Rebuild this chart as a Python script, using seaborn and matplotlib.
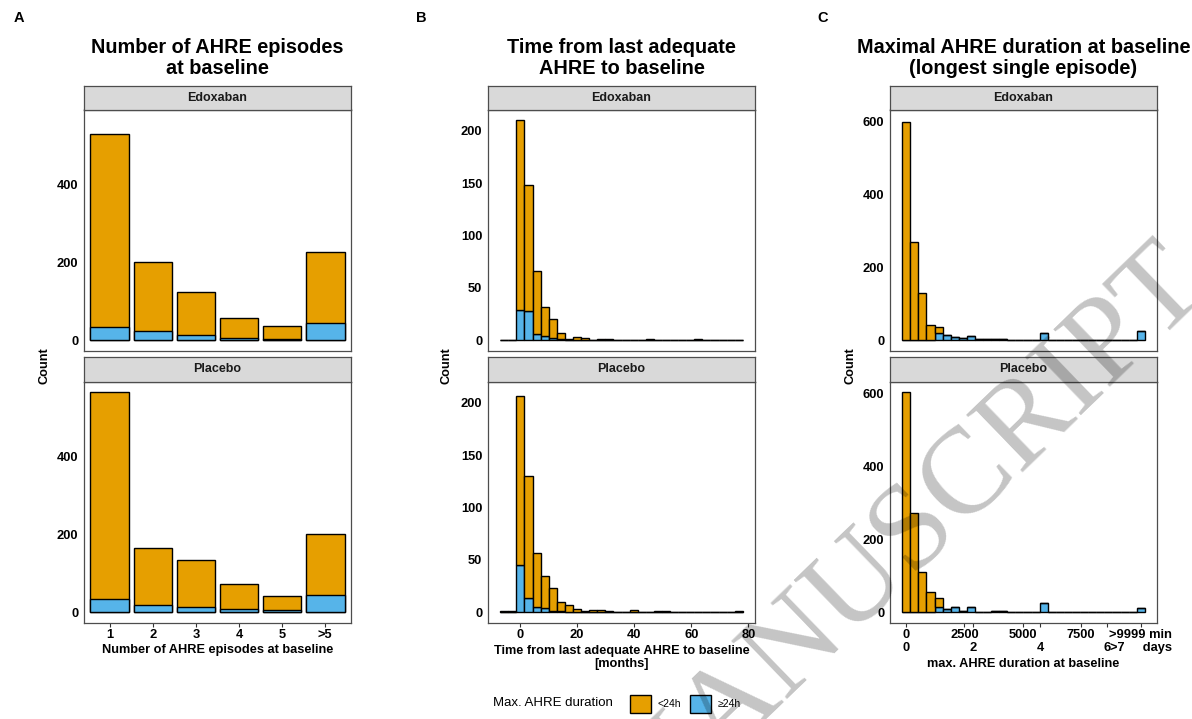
import matplotlib
matplotlib.use("Agg")
import numpy as np
import pandas as pd
import seaborn as sns
from matplotlib import pyplot as plt
from matplotlib.patches import Patch

sns.set_theme(style="white")
plt.rcParams["font.family"] = ["Liberation Sans", "DejaVu Sans"]
plt.rcParams["text.color"] = "black"

ORANGE = "#E69F00"
BLUE = "#56B4E9"
duration_levels = ["<24h", "≥24h"]
arms = ["Edoxaban", "Placebo"]

# A: number of AHRE episodes at baseline
episode_labels = ["1", "2", "3", "4", "5", ">5"]
episodes_edox_short = [498, 178, 110, 51, 35, 181]
episodes_edox_long = [33, 22, 13, 5, 2, 45]
episodes_plac_short = [531, 147, 120, 65, 37, 157]
episodes_plac_long = [34, 19, 13, 8, 4, 44]

# B: months since last adequate AHRE, 30 bins
months_range = (-6.85, 78.05)
months_edox_short = [0, 0, 181, 120, 60, 28, 18, 6, 1, 3, 2, 0, 1, 1, 0,
                     0, 0, 0, 1, 0, 0, 0, 0, 0, 1, 0, 0, 0, 0, 0]
months_edox_long = [0, 0, 29, 28, 6, 4, 2, 1, 0, 0, 0, 0, 0, 0, 0,
                    0, 0, 0, 0, 0, 0, 0, 0, 0, 0, 0, 0, 0, 0, 0]
months_plac_short = [1, 1, 162, 117, 51, 30, 22, 9, 7, 3, 1, 2, 2, 1, 0,
                     0, 2, 0, 0, 1, 1, 0, 0, 0, 0, 0, 0, 0, 0, 1]
months_plac_long = [0, 0, 45, 13, 5, 4, 1, 1, 0, 0, 0, 0, 0, 0, 0,
                    0, 0, 0, 0, 0, 0, 0, 0, 0, 0, 0, 0, 0, 0, 0]

# C: maximal AHRE duration in minutes, 30 bins
minutes_range = (-173.8, 10253.8)
minutes_edox_short = [601, 271, 130, 41, 19, 0, 0, 0, 0, 0, 0, 0, 0, 0, 0,
                      0, 0, 0, 0, 0, 0, 0, 0, 0, 0, 0, 0, 0, 0, 0]
minutes_edox_long = [0, 0, 0, 0, 18, 15, 8, 5, 11, 3, 2, 2, 2, 1, 1,
                     1, 1, 20, 0, 1, 0, 1, 1, 0, 1, 0, 0, 0, 1, 24]
minutes_plac_short = [604, 272, 109, 55, 23, 0, 0, 0, 0, 0, 0, 0, 0, 0, 0,
                      0, 0, 0, 0, 0, 0, 0, 0, 0, 0, 0, 0, 0, 0, 0]
minutes_plac_long = [0, 0, 0, 0, 15, 7, 13, 3, 14, 1, 1, 2, 2, 1, 1,
                     1, 0, 26, 0, 0, 0, 1, 0, 0, 1, 0, 0, 0, 0, 10]
minute_ticks = [0, 2500, 2880, 5000, 5760, 7500, 8640, 10080]
minute_labels = ["0\n0", "2500\n", "\n2", "5000\n", "\n4", "7500\n", "\n6",
                 ">9999 min\n>7     days"]

W, H = 1192, 719
cols = [(84, 351), (488, 755), (890, 1157)]
rows = [((86, 109.5), (109.5, 351)), ((357, 381.5), (381.5, 623))]
EDGE = "#4D4D4D"
TICK_FS = 9.3


def box(x0, y0, x1, y1):
    return [x0 / W, 1 - y1 / H, (x1 - x0) / W, (y1 - y0) / H]


def style_panel(ax, xlim, ylim, yticks, bottom):
    ax.set_xlim(*xlim)
    ax.set_ylim(*ylim)
    ax.set_yticks(yticks)
    ax.set_xlabel("")
    ax.set_ylabel("")
    for sp in ax.spines.values():
        sp.set_visible(True)
        sp.set_color(EDGE)
        sp.set_linewidth(0.9)
    ax.tick_params(axis="both", direction="out", length=2.6, width=0.8,
                   color="#333333", pad=1.5, labelsize=TICK_FS, labelcolor="black")
    for lab in ax.get_yticklabels():
        lab.set_fontweight("bold")
    if not bottom:
        ax.tick_params(axis="x", bottom=False, labelbottom=False)
    else:
        ax.tick_params(axis="x", bottom=True)
        for lab in ax.get_xticklabels():
            lab.set_fontweight("bold")


def strip(fig, col, row, name):
    (y0, y1), _ = rows[row]
    sax = fig.add_axes(box(cols[col][0], y0, cols[col][1], y1))
    sax.set_facecolor("#D9D9D9")
    sax.set_xticks([])
    sax.set_yticks([])
    for sp in sax.spines.values():
        sp.set_color(EDGE)
        sp.set_linewidth(0.9)
    sax.text(0.5, 0.5, name, ha="center", va="center", fontsize=9,
             fontweight="bold", color="#1A1A1A", transform=sax.transAxes)


def binned_hist(ax, rng, short, long):
    edges = np.linspace(rng[0], rng[1], len(short) + 1)
    centers = (edges[:-1] + edges[1:]) / 2
    df = pd.DataFrame({
        "x": np.concatenate([centers, centers]),
        "n": short + long,
        "dur": [duration_levels[0]] * len(short) + [duration_levels[1]] * len(long),
    })
    sns.histplot(data=df, x="x", weights="n", hue="dur", hue_order=duration_levels,
                 palette=[ORANGE, BLUE], bins=len(short), binrange=rng,
                 multiple="stack", edgecolor="black", linewidth=1.0, alpha=1,
                 legend=False, ax=ax)


fig = plt.figure(figsize=(W / 100, H / 100), dpi=100)

episode_data = [(episodes_edox_short, episodes_edox_long),
                (episodes_plac_short, episodes_plac_long)]
months_data = [(months_edox_short, months_edox_long),
               (months_plac_short, months_plac_long)]
minutes_data = [(minutes_edox_short, minutes_edox_long),
                (minutes_plac_short, minutes_plac_long)]

for r, arm in enumerate(arms):
    _, (py0, py1) = rows[r]
    bottom = r == 1

    # panel A
    ax = fig.add_axes(box(cols[0][0], py0, cols[0][1], py1))
    short, long = episode_data[r]
    total = [s + l for s, l in zip(short, long)]
    sns.barplot(x=episode_labels, y=total, color=ORANGE, saturation=1, width=0.9,
                edgecolor="black", linewidth=1.0, errorbar=None, ax=ax)
    sns.barplot(x=episode_labels, y=long, color=BLUE, saturation=1, width=0.9,
                edgecolor="black", linewidth=1.0, errorbar=None, ax=ax)
    style_panel(ax, (-0.6, 5.6), (-28.25, 593.25), [0, 200, 400], bottom)
    strip(fig, 0, r, arm)

    # panel B
    ax = fig.add_axes(box(cols[1][0], py0, cols[1][1], py1))
    binned_hist(ax, months_range, *months_data[r])
    ax.set_xticks([0, 20, 40, 60, 80])
    style_panel(ax, (-11.1, 82.3), (-10.5, 220.5), [0, 50, 100, 150, 200], bottom)
    strip(fig, 1, r, arm)

    # panel C
    ax = fig.add_axes(box(cols[2][0], py0, cols[2][1], py1))
    binned_hist(ax, minutes_range, *minutes_data[r])
    ax.set_xticks(minute_ticks)
    ax.set_xticklabels(minute_labels)
    style_panel(ax, (-695.2, 10775.2), (-30.2, 634.2), [0, 200, 400, 600], bottom)
    if bottom:
        for lab in ax.get_xticklabels():
            lab.set_linespacing(1.15)
    strip(fig, 2, r, arm)

titles = ["Number of AHRE episodes\nat baseline",
          "Time from last adequate\nAHRE to baseline",
          "Maximal AHRE duration at baseline\n(longest single episode)"]
letters = ["A", "B", "C"]
letter_x = [19, 421, 823]
xlabels = ["Number of AHRE episodes at baseline",
           "Time from last adequate AHRE to baseline\n[months]",
           "max. AHRE duration at baseline"]
xlabel_y = [650, 657.5, 664]
ylabel_x = [44, 447, 851]

for i in range(3):
    cx = (cols[i][0] + cols[i][1]) / 2
    fig.text(cx / W, 1 - 58 / H, titles[i], ha="center", va="center",
             multialignment="center", fontsize=14.3, fontweight="bold",
             linespacing=1.1)
    fig.text(letter_x[i] / W, 1 - 18 / H, letters[i], ha="center", va="center",
             fontsize=10.5, fontweight="bold")
    fig.text(cx / W, 1 - xlabel_y[i] / H, xlabels[i], ha="center", va="center",
             multialignment="center", fontsize=9.2, fontweight="bold",
             linespacing=1.05)
    fig.text(ylabel_x[i] / W, 1 - 366 / H, "Count", ha="center", va="center",
             rotation=90, fontsize=9.2, fontweight="bold")

# legend
fig.text(493 / W, 1 - 703 / H, "Max. AHRE duration", ha="left", va="center",
         fontsize=9.5)
handles = [Patch(facecolor=ORANGE, edgecolor="black", linewidth=1.0),
           Patch(facecolor=BLUE, edgecolor="black", linewidth=1.0)]
fig.legend(handles, duration_levels, loc="center left",
           bbox_to_anchor=(630 / W, 1 - 704 / H), ncol=2, frameon=False,
           fontsize=7.5, handlelength=2.0, handleheight=2.3, handletextpad=0.65,
           columnspacing=0.9, borderpad=0, borderaxespad=0)

# watermark
fig.text(906 / W, 1 - 540 / H, "MANUSCRIPT", rotation=44, ha="center", va="center",
         fontsize=88, family=["Liberation Serif", "DejaVu Serif"], color="black",
         alpha=0.23, zorder=10)

fig.savefig("out.png", dpi=100)
